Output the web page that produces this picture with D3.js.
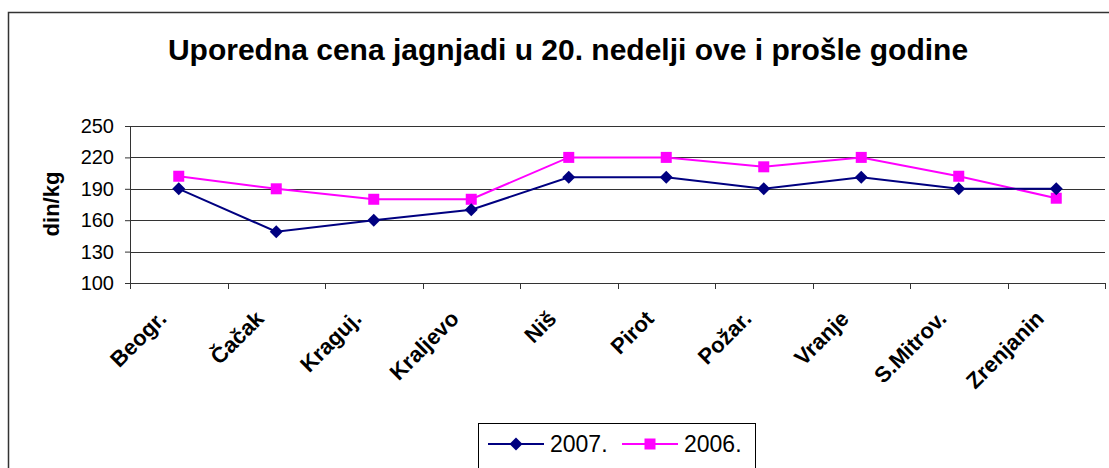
<!DOCTYPE html>
<html>
<head>
<meta charset="utf-8">
<script src="https://cdn.jsdelivr.net/npm/d3@7"></script>
<style>
  body { margin: 0; background: #fff; }
  svg { display: block; font-family: "Liberation Sans", Arial, sans-serif; }
</style>
</head>
<body>
<svg id="chart" width="1109" height="468"></svg>
<script>
var categories = ["Beogr.", "Čačak", "Kraguj.", "Kraljevo", "Niš", "Pirot", "Požar.", "Vranje", "S.Mitrov.", "Zrenjanin"];
var values2007 = [190, 149, 160, 170, 201, 201, 190, 201, 190, 190];
var values2006 = [202, 190, 180, 180, 220, 220, 211, 220, 202, 181];
var yTicks = [100, 130, 160, 190, 220, 250];

var series = [
  { name: "2007.", values: values2007, color: "#000080", marker: "diamond" },
  { name: "2006.", values: values2006, color: "#ff00ff", marker: "square" }
];

var svg = d3.select("svg#chart"),
    margin = {top: 126, right: 4, bottom: 185, left: 130},
    width = +svg.attr("width") - margin.left - margin.right,
    height = +svg.attr("height") - margin.top - margin.bottom;

// outer frame
svg.append("rect")
    .attr("x", 8.5).attr("y", 12.5)
    .attr("width", 1130).attr("height", 500)
    .attr("fill", "none").attr("stroke", "#333").attr("stroke-width", 1.5);

svg.append("text")
    .attr("x", 568).attr("y", 60)
    .attr("text-anchor", "middle")
    .attr("font-size", 30).attr("font-weight", "bold")
    .text("Uporedna cena jagnjadi u 20. nedelji ove i prošle godine");

var g = svg.append("g").attr("transform", "translate(" + margin.left + "," + margin.top + ")");

var x = d3.scaleBand().domain(categories).range([0, width]);
var y = d3.scaleLinear().domain([100, 250]).range([height, 0]);

// gridlines
g.append("g")
  .selectAll("line")
  .data(yTicks)
  .enter().append("line")
    .attr("x1", 0).attr("x2", width)
    .attr("y1", function(d) { return Math.round(y(d)) + 0.5; })
    .attr("y2", function(d) { return Math.round(y(d)) + 0.5; })
    .attr("stroke", "#333").attr("stroke-width", 1);

// y axis
var yAxis = g.append("g")
    .call(d3.axisLeft(y).tickValues(yTicks).tickSize(5).tickPadding(11));
yAxis.attr("font-family", null).attr("font-size", null);
yAxis.selectAll("text").attr("font-size", 20).attr("fill", "#000");
yAxis.selectAll("line").attr("stroke", "#333");
yAxis.select(".domain").attr("stroke", "#333");

// x axis with ticks at band edges
var xAxis = g.append("g").attr("transform", "translate(0," + height + ")");
xAxis.append("line").attr("x1", 0).attr("x2", width).attr("y1", 0.5).attr("y2", 0.5).attr("stroke", "#333");
xAxis.selectAll("line.tick")
  .data(categories.concat(["__end"]))
  .enter().append("line")
    .attr("class", "tick")
    .attr("x1", function(d, i) { return Math.round(i * x.step()) + 0.5; })
    .attr("x2", function(d, i) { return Math.round(i * x.step()) + 0.5; })
    .attr("y1", 0).attr("y2", 6)
    .attr("stroke", "#333");
xAxis.selectAll("text")
  .data(categories)
  .enter().append("text")
    .attr("transform", function(d) { return "translate(" + (x(d) + x.bandwidth() / 2 - 11) + ",37) rotate(-45)"; })
    .attr("text-anchor", "end")
    .attr("font-size", 22).attr("font-weight", "bold")
    .text(function(d) { return d; });

// y axis title
svg.append("text")
    .attr("transform", "translate(59,204) rotate(-90)")
    .attr("text-anchor", "middle")
    .attr("font-size", 22).attr("font-weight", "bold")
    .text("din/kg");

var line = d3.line()
    .x(function(d, i) { return x(categories[i]) + x.bandwidth() / 2; })
    .y(function(d) { return y(d); });

function drawMarker(sel, type, color) {
  if (type === "diamond") {
    sel.append("path").attr("d", "M0,-6.5L6.5,0L0,6.5L-6.5,0Z").attr("fill", color);
  } else {
    sel.append("rect").attr("x", -5.5).attr("y", -5.5).attr("width", 11).attr("height", 11).attr("fill", color);
  }
}

series.slice().reverse().forEach(function(s) {
  g.append("path")
    .datum(s.values)
    .attr("fill", "none").attr("stroke", s.color).attr("stroke-width", 2)
    .attr("d", line);
});
series.slice().reverse().forEach(function(s) {
  g.append("g").selectAll("g")
    .data(s.values)
    .enter().append("g")
      .attr("transform", function(d, i) { return "translate(" + (x(categories[i]) + x.bandwidth() / 2) + "," + y(d) + ")"; })
      .each(function() { drawMarker(d3.select(this), s.marker, s.color); });
});

// legend
var legend = svg.append("g");
legend.append("rect")
    .attr("x", 478.5).attr("y", 423.5).attr("width", 277).attr("height", 45)
    .attr("fill", "#fff").attr("stroke", "#000");
var items = legend.selectAll("g.item")
  .data(series)
  .enter().append("g")
    .attr("class", "item")
    .attr("transform", function(d, i) { return "translate(" + (488 + i * 134) + ",444)"; });
items.append("line").attr("x1", 0).attr("x2", 56).attr("stroke", function(d) { return d.color; }).attr("stroke-width", 2);
items.each(function(d) {
  var m = d3.select(this).append("g").attr("transform", "translate(28,0)");
  drawMarker(m, d.marker, d.color);
});
items.append("text")
    .attr("x", 62).attr("y", 8)
    .attr("font-size", 23)
    .text(function(d) { return d.name; });
</script>
</body>
</html>
